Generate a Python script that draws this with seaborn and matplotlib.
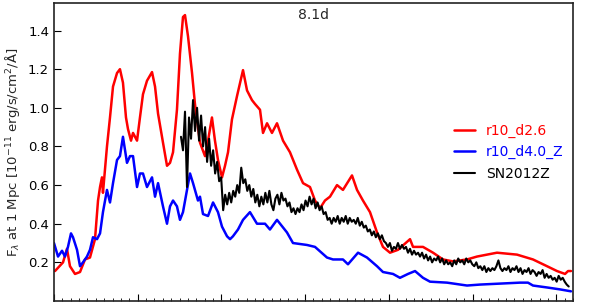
import pandas as pd
import seaborn as sns
import matplotlib
matplotlib.use("Agg")
import matplotlib.pyplot as plt
import numpy as np
from matplotlib.ticker import MultipleLocator

sns.set_style("ticks")
plt.rcParams['font.family'] = ['DejaVu Sans']

# model r10_d2.6 (red)
red_wave = [3012, 3108, 3155, 3191, 3251, 3311, 3370, 3430, 3490, 3526, 3550, 3573, 3585,
            3633, 3669, 3705, 3753, 3788, 3824, 3860, 3884, 3920, 3944, 3992, 4027, 4063,
            4111, 4171, 4207, 4243, 4302, 4350, 4386, 4422, 4469, 4505, 4541, 4565, 4601,
            4649, 4684, 4744, 4804, 4840, 4887, 4923, 4959, 5007, 5043, 5079, 5126, 5186,
            5258, 5306, 5365, 5401, 5461, 5497, 5545, 5604, 5664, 5736, 5819, 5903, 5975,
            6058, 6118, 6178, 6237, 6297, 6381, 6452, 6560, 6620, 6691, 6775, 6859, 6930,
            7014, 7110, 7253, 7289, 7408, 7528, 7647, 7766, 7934, 8053, 8292, 8531, 8722,
            8890, 9009, 9105, 9141, 9176]
red_flux = [0.155, 0.20, 0.27, 0.18, 0.14, 0.15, 0.215, 0.225, 0.32, 0.52, 0.59, 0.64, 0.56,
            0.80, 0.95, 1.11, 1.18, 1.20, 1.13, 0.95, 0.89, 0.83, 0.87, 0.83, 0.95, 1.07,
            1.14, 1.185, 1.11, 0.97, 0.82, 0.70, 0.715, 0.77, 0.99, 1.28, 1.47, 1.48, 1.37,
            1.18, 1.02, 0.82, 0.75, 0.83, 0.95, 0.83, 0.73, 0.64, 0.70, 0.77, 0.94, 1.06,
            1.195, 1.09, 1.04, 1.02, 0.99, 0.87, 0.92, 0.87, 0.92, 0.83, 0.77, 0.68, 0.61,
            0.59, 0.52, 0.48, 0.52, 0.54, 0.60, 0.575, 0.65, 0.575, 0.52, 0.46, 0.355, 0.28,
            0.25, 0.265, 0.32, 0.28, 0.28, 0.25, 0.215, 0.205, 0.215, 0.23, 0.25, 0.24, 0.215,
            0.18, 0.155, 0.14, 0.155, 0.155]

# model r10_d4.0_Z (blue)
blue_wave = [3000, 3048, 3096, 3131, 3167, 3203, 3227, 3275, 3311, 3346, 3394, 3430, 3466,
             3514, 3550, 3585, 3633, 3669, 3705, 3753, 3788, 3824, 3872, 3908, 3944, 3992,
             4027, 4063, 4111, 4171, 4207, 4243, 4302, 4350, 4386, 4422, 4469, 4505, 4541,
             4589, 4625, 4661, 4720, 4744, 4780, 4840, 4900, 4959, 5007, 5067, 5103, 5138,
             5198, 5258, 5341, 5425, 5521, 5580, 5664, 5783, 5855, 6022, 6118, 6261, 6333,
             6452, 6512, 6632, 6739, 6859, 6930, 7050, 7133, 7229, 7313, 7408, 7492, 7695,
             7934, 8089, 8328, 8567, 8662, 8722, 8890, 9045, 9176]
blue_flux = [0.30, 0.23, 0.26, 0.23, 0.28, 0.35, 0.33, 0.265, 0.18, 0.20, 0.23, 0.265, 0.33,
             0.32, 0.35, 0.46, 0.575, 0.51, 0.61, 0.73, 0.75, 0.85, 0.715, 0.75, 0.75, 0.59,
             0.66, 0.66, 0.59, 0.64, 0.54, 0.61, 0.49, 0.40, 0.49, 0.52, 0.49, 0.42, 0.46,
             0.575, 0.66, 0.61, 0.52, 0.54, 0.45, 0.44, 0.51, 0.46, 0.385, 0.335, 0.32, 0.335,
             0.37, 0.42, 0.46, 0.40, 0.40, 0.37, 0.42, 0.355, 0.30, 0.29, 0.28, 0.225, 0.215,
             0.215, 0.19, 0.25, 0.225, 0.18, 0.15, 0.14, 0.12, 0.14, 0.155, 0.12, 0.10, 0.095,
             0.08, 0.085, 0.09, 0.095, 0.095, 0.08, 0.07, 0.06, 0.05]

# observed SN2012Z (black), sampled every 24 A from 4517 A
sn_start, sn_step = 4517, 24
sn_flux = [0.85, 0.78, 0.98, 0.59, 0.95, 0.84, 1.04, 0.88, 1.00, 0.83, 0.96, 0.80, 0.90,
           0.72, 0.84, 0.70, 0.78, 0.66, 0.72, 0.62, 0.64, 0.47, 0.55, 0.50, 0.56, 0.51,
           0.57, 0.54, 0.60, 0.56, 0.69, 0.61, 0.63, 0.57, 0.60, 0.54, 0.58, 0.51, 0.55,
           0.49, 0.54, 0.50, 0.56, 0.51, 0.57, 0.50, 0.47, 0.53, 0.55, 0.50, 0.56, 0.52,
           0.53, 0.49, 0.51, 0.46, 0.48, 0.45, 0.48, 0.46, 0.50, 0.47, 0.52, 0.49, 0.54,
           0.50, 0.53, 0.48, 0.51, 0.47, 0.49, 0.45, 0.46, 0.42, 0.43, 0.40, 0.43, 0.41,
           0.44, 0.40, 0.43, 0.41, 0.44, 0.40, 0.43, 0.41, 0.42, 0.40, 0.43, 0.39, 0.41,
           0.38, 0.39, 0.36, 0.37, 0.34, 0.36, 0.33, 0.35, 0.32, 0.34, 0.31, 0.30, 0.28,
           0.30, 0.26, 0.28, 0.27, 0.30, 0.27, 0.29, 0.27, 0.28, 0.25, 0.27, 0.24, 0.26,
           0.24, 0.25, 0.23, 0.25, 0.22, 0.24, 0.21, 0.23, 0.20, 0.22, 0.21, 0.23, 0.20,
           0.22, 0.19, 0.21, 0.19, 0.20, 0.18, 0.21, 0.19, 0.22, 0.20, 0.21, 0.19, 0.22,
           0.20, 0.21, 0.19, 0.18, 0.20, 0.17, 0.18, 0.16, 0.18, 0.15, 0.17, 0.155, 0.17,
           0.16, 0.18, 0.21, 0.17, 0.155, 0.17, 0.16, 0.18, 0.15, 0.17, 0.16, 0.18, 0.15,
           0.17, 0.14, 0.16, 0.15, 0.17, 0.14, 0.16, 0.15, 0.13, 0.15, 0.14, 0.16, 0.12,
           0.14, 0.12, 0.13, 0.11, 0.12, 0.10, 0.13, 0.11, 0.12, 0.10, 0.085, 0.075]
sn_wave = sn_start + sn_step * np.arange(len(sn_flux))

df_red = pd.DataFrame({'wave': red_wave, 'flux': red_flux})
df_blue = pd.DataFrame({'wave': blue_wave, 'flux': blue_flux})
df_sn = pd.DataFrame({'wave': sn_wave, 'flux': sn_flux})

fig = plt.figure(figsize=(5.92, 3.04), dpi=100)
ax = fig.add_axes([0.0912, 0.0099, 0.8767, 0.9786])

sns.lineplot(data=df_red, x='wave', y='flux', color='#ff0000', lw=1.8,
             label='r10_d2.6', sort=False, estimator=None, ax=ax)
sns.lineplot(data=df_blue, x='wave', y='flux', color='#0000ff', lw=1.8,
             label='r10_d4.0_Z', sort=False, estimator=None, ax=ax)
sns.lineplot(data=df_sn, x='wave', y='flux', color='black', lw=1.5,
             label='SN2012Z', sort=False, estimator=None, ax=ax)

ax.set_xlim(3000, 9200)
ax.set_ylim(0.0, 1.54)
ax.xaxis.set_major_locator(MultipleLocator(1000))
ax.xaxis.set_minor_locator(MultipleLocator(100))
ax.set_yticks([0.2, 0.4, 0.6, 0.8, 1.0, 1.2, 1.4])
ax.tick_params(axis='both', which='both', direction='in', colors='black')
ax.tick_params(axis='x', which='major', length=5, labelbottom=False)
ax.tick_params(axis='x', which='minor', length=2.5)
ax.tick_params(axis='y', which='major', length=5, labelsize=9.5)
for s in ax.spines.values():
    s.set_color('#222222')
    s.set_linewidth(1.2)

ax.set_xlabel('')
ax.set_ylabel(r'F$_\lambda$ at 1 Mpc [10$^{-11}$ erg/s/cm$^2$/Å]', fontsize=9.5)
ax.text(0.5, 0.961, '8.1d', transform=ax.transAxes, ha='center', va='center', fontsize=10)

ax.legend(loc='center left', bbox_to_anchor=(0.7465, 0.50), frameon=False,
          labelcolor='linecolor', handlelength=1.5, fontsize=10, labelspacing=0.55)

fig.savefig('out.png', dpi=100)
